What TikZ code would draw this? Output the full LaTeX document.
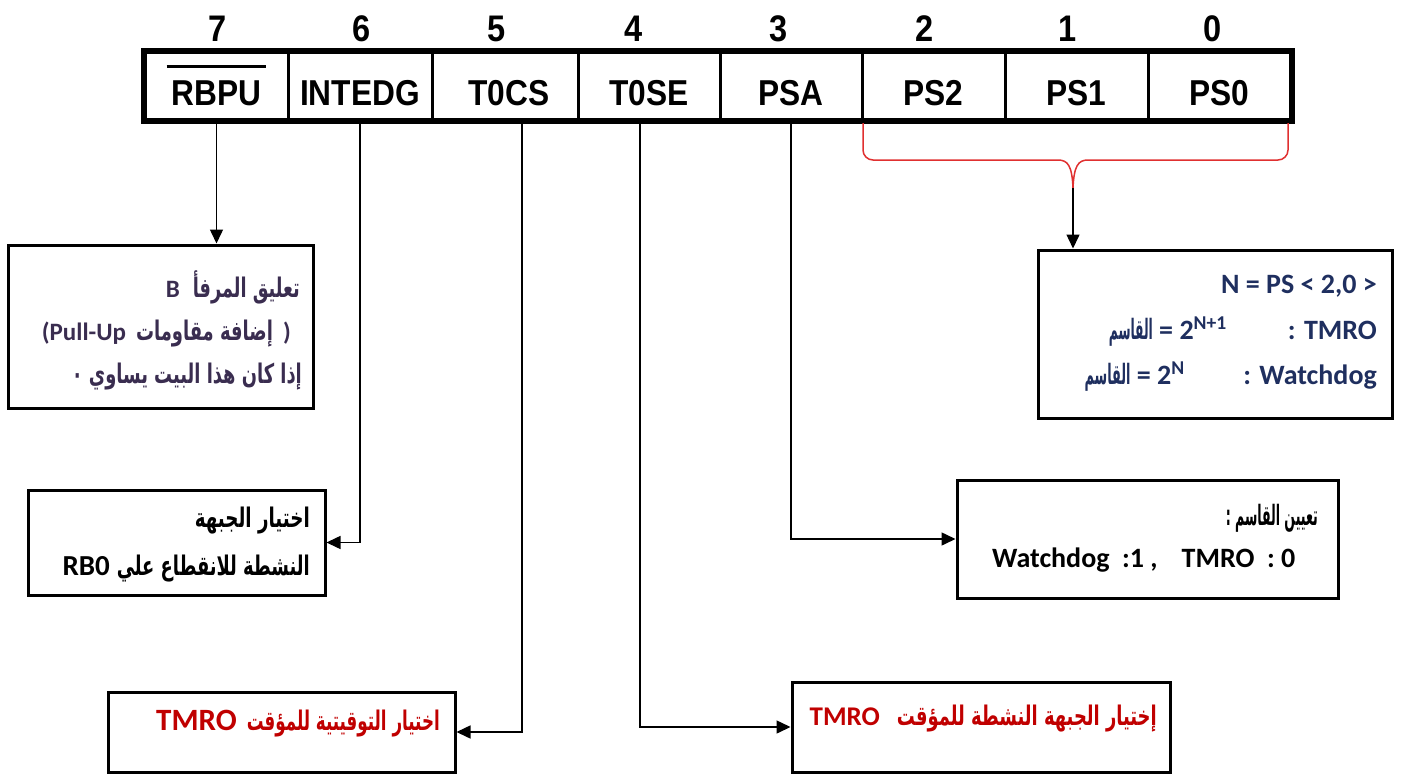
\documentclass[tikz,border=0pt]{standalone}
\usepackage{fontspec}
\usepackage{graphicx}
\setmainfont{Liberation Sans}
\newfontfamily\regfont{Liberation Sans}[FakeStretch=0.88]
\newfontfamily\latfont{Carlito}
\newfontfamily\arabicfont[Script=Arabic]{DejaVu Sans}
\TeXXeTstate=1
\usetikzlibrary{arrows.meta}
\definecolor{boxone}{HTML}{3A2D50}
\definecolor{navy}{HTML}{1F2F5F}
\definecolor{darkred}{HTML}{C00000}
\definecolor{bracered}{HTML}{E03030}
\newcommand\arw[2]{\resizebox{#1pt}{\height}{\arabicfont\bfseries #2}}
\newcommand\latb[2]{{\latfont\bfseries\fontsize{#1}{#1}\selectfont #2}}
\newcommand\rbpulabel{\setbox0\hbox{RBPU}\vbox{\hbox to \wd0{\hss\vrule width \dimexpr\wd0+10pt\relax height 3pt\hss}\nointerlineskip\kern12pt\box0}}
\begin{document}
\begin{tikzpicture}[x=1pt,y=-1pt,
  cell/.style={draw, line width=3pt, minimum height=66pt, inner sep=0pt, text height=38pt, text depth=0pt, font=\regfont\bfseries\fontsize{36}{40}\selectfont},
  digit/.style={inner sep=0pt, font=\regfont\bfseries\fontsize{37}{40}\selectfont},
  box/.style={draw, line width=3pt, inner sep=0pt},
  txt/.style={inner sep=0pt, anchor=base east},
  conn/.style={line width=1.5pt, -{Triangle[length=14pt,width=13pt]}}
]
\useasboundingbox (0,0) rectangle (1403,776);
% register cells
\node[cell, minimum width=143pt] (c7) at (216.5,86) {\rbpulabel\hspace{14pt}};
\node[cell, minimum width=144pt] (c6) at (360,86) {INTEDG};
\node[cell, minimum width=146pt] (c5) at (505,86) {\hspace{8pt}T0CS};
\node[cell, minimum width=142pt] (c4) at (649,86) {T0SE};
\node[cell, minimum width=142pt] (c3) at (791,86) {PSA};
\node[cell, minimum width=143pt] (c2) at (933.5,86) {PS2};
\node[cell, minimum width=143pt] (c1) at (1076.5,86) {PS1\hspace{8pt}};
\node[cell, minimum width=142pt] (c0) at (1219,86) {PS0\hspace{8pt}};
\draw[line width=6pt] (c7.north west) rectangle (c0.south east);
% digits
\node[digit] (d7) at (218,29) {7};
\node[digit] (d6) at (362,29) {6};
\node[digit] (d5) at (497,29) {5};
\node[digit] (d4) at (634,29) {4};
\node[digit] (d3) at (779,29) {3};
\node[digit] (d2) at (925,29) {2};
\node[digit] (d1) at (1068,29) {1};
\node[digit] (d0) at (1213,29) {0};
% boxes
\node[box, minimum width=305pt, minimum height=163pt] (b1) at (160.5,326.5) {};
\node[box, minimum width=354pt, minimum height=168pt] (bN) at (1215,334) {};
\node[box, minimum width=297pt, minimum height=105pt] (b2) at (176.5,542.5) {};
\node[box, minimum width=381pt, minimum height=118pt] (b3) at (1147.5,539) {};
\node[box, minimum width=347pt, minimum height=80pt] (b5) at (281.5,732) {};
\node[box, minimum width=378pt, minimum height=90pt] (b4) at (981,727) {};
% box 1 text
\begin{scope}[boxone, font=\fontsize{27}{28}\selectfont]
\node[txt] (l11) at (300,297) {\latb{25}{B}\hspace{13pt}\arw{107}{\beginR تعليق المرفأ\endR}};
\node[txt] (l12) at (291,340) {\latb{25}{(Pull-Up}\hspace{10pt}\arw{137}{\beginR إضافة مقاومات\endR}\hspace{10pt}\latb{25}{)}};
\node[txt] (l13) at (302,383) {\arw{230}{\beginR إذا كان هذا البيت يساوي ٠\endR}};
\end{scope}
% box N text
\begin{scope}[navy, font=\latfont\bfseries\fontsize{28}{30}\selectfont]
\node[txt] (n1) at (1377,293) {N = PS < 2,0 >};
\node[txt] (n2a) at (1377,339) {: TMRO};
\node[txt] (n2b) at (1227,339) {{\fontsize{28}{30}\selectfont\arw{44}{\beginR القاسم\endR}} = 2\textsuperscript{N+1}};
\node[txt] (n3a) at (1377,384) {: Watchdog};
\node[txt] (n3b) at (1185,384) {{\fontsize{28}{30}\selectfont\arw{46}{\beginR القاسم\endR}} = 2\textsuperscript{N}};
\end{scope}
% box 2 text
\begin{scope}[black, font=\fontsize{27}{28}\selectfont]
\node[txt] (l21) at (310,527) {\arw{115}{\beginR اختيار الجبهة\endR}};
\node[txt] (l22) at (310,575) {\latb{29}{RB0}\hspace{7pt}\arw{193}{\beginR النشطة للانقطاع علي\endR}};
\end{scope}
% PSA box text
\begin{scope}[black, font=\fontsize{28}{30}\selectfont]
\node[txt] (l31) at (1318,525) {\arw{92}{\beginR تعيين القاسم :\endR}};
\node[txt, anchor=base west, font=\latfont\bfseries\fontsize{28}{30}\selectfont] (l32) at (992,567) {Watchdog\ \ :1\ ,\hspace{24pt}TMRO\ \ :\ 0};
\end{scope}
% red boxes text
\begin{scope}[darkred, font=\fontsize{27}{28}\selectfont]
\node[txt] (l51) at (440,730) {\latb{31}{TMRO}\hspace{10pt}\arw{193}{\beginR اختيار التوقيتية للمؤقت\endR}};
\node[txt] (l41) at (1157,725) {\latb{27}{TMRO}\hspace{17pt}\arw{260}{\beginR إختيار الجبهة النشطة للمؤقت\endR}};
\end{scope}
% brace
\coordinate (bl) at (863,123);
\coordinate (br) at (1288,123);
\coordinate (tip) at (1073,188);
\draw[bracered, line width=1.5pt] (bl) -- (863,150) to[out=-90,in=180] (873,160) -- (1058,160)
  .. controls (1068,160) and (1072,166) .. (tip)
  .. controls (1074,166) and (1078,160) .. (1088,160) -- (1278,160) to[out=0,in=-90] (1288,150) -- (br);
% connectors
\draw[conn] (c7.south) -- (c7.south |- b1.north);
\draw[conn] (tip) -- (tip |- bN.north);
\draw[conn] (c6.south) |- (b2.east);
\draw[conn] ([xshift=17pt]c5.south) |- (b5.east);
\draw[conn] ([xshift=-9pt]c4.south) |- (b4.west);
\draw[conn] (c3.south) |- (b3.west);
\end{tikzpicture}
\end{document}
